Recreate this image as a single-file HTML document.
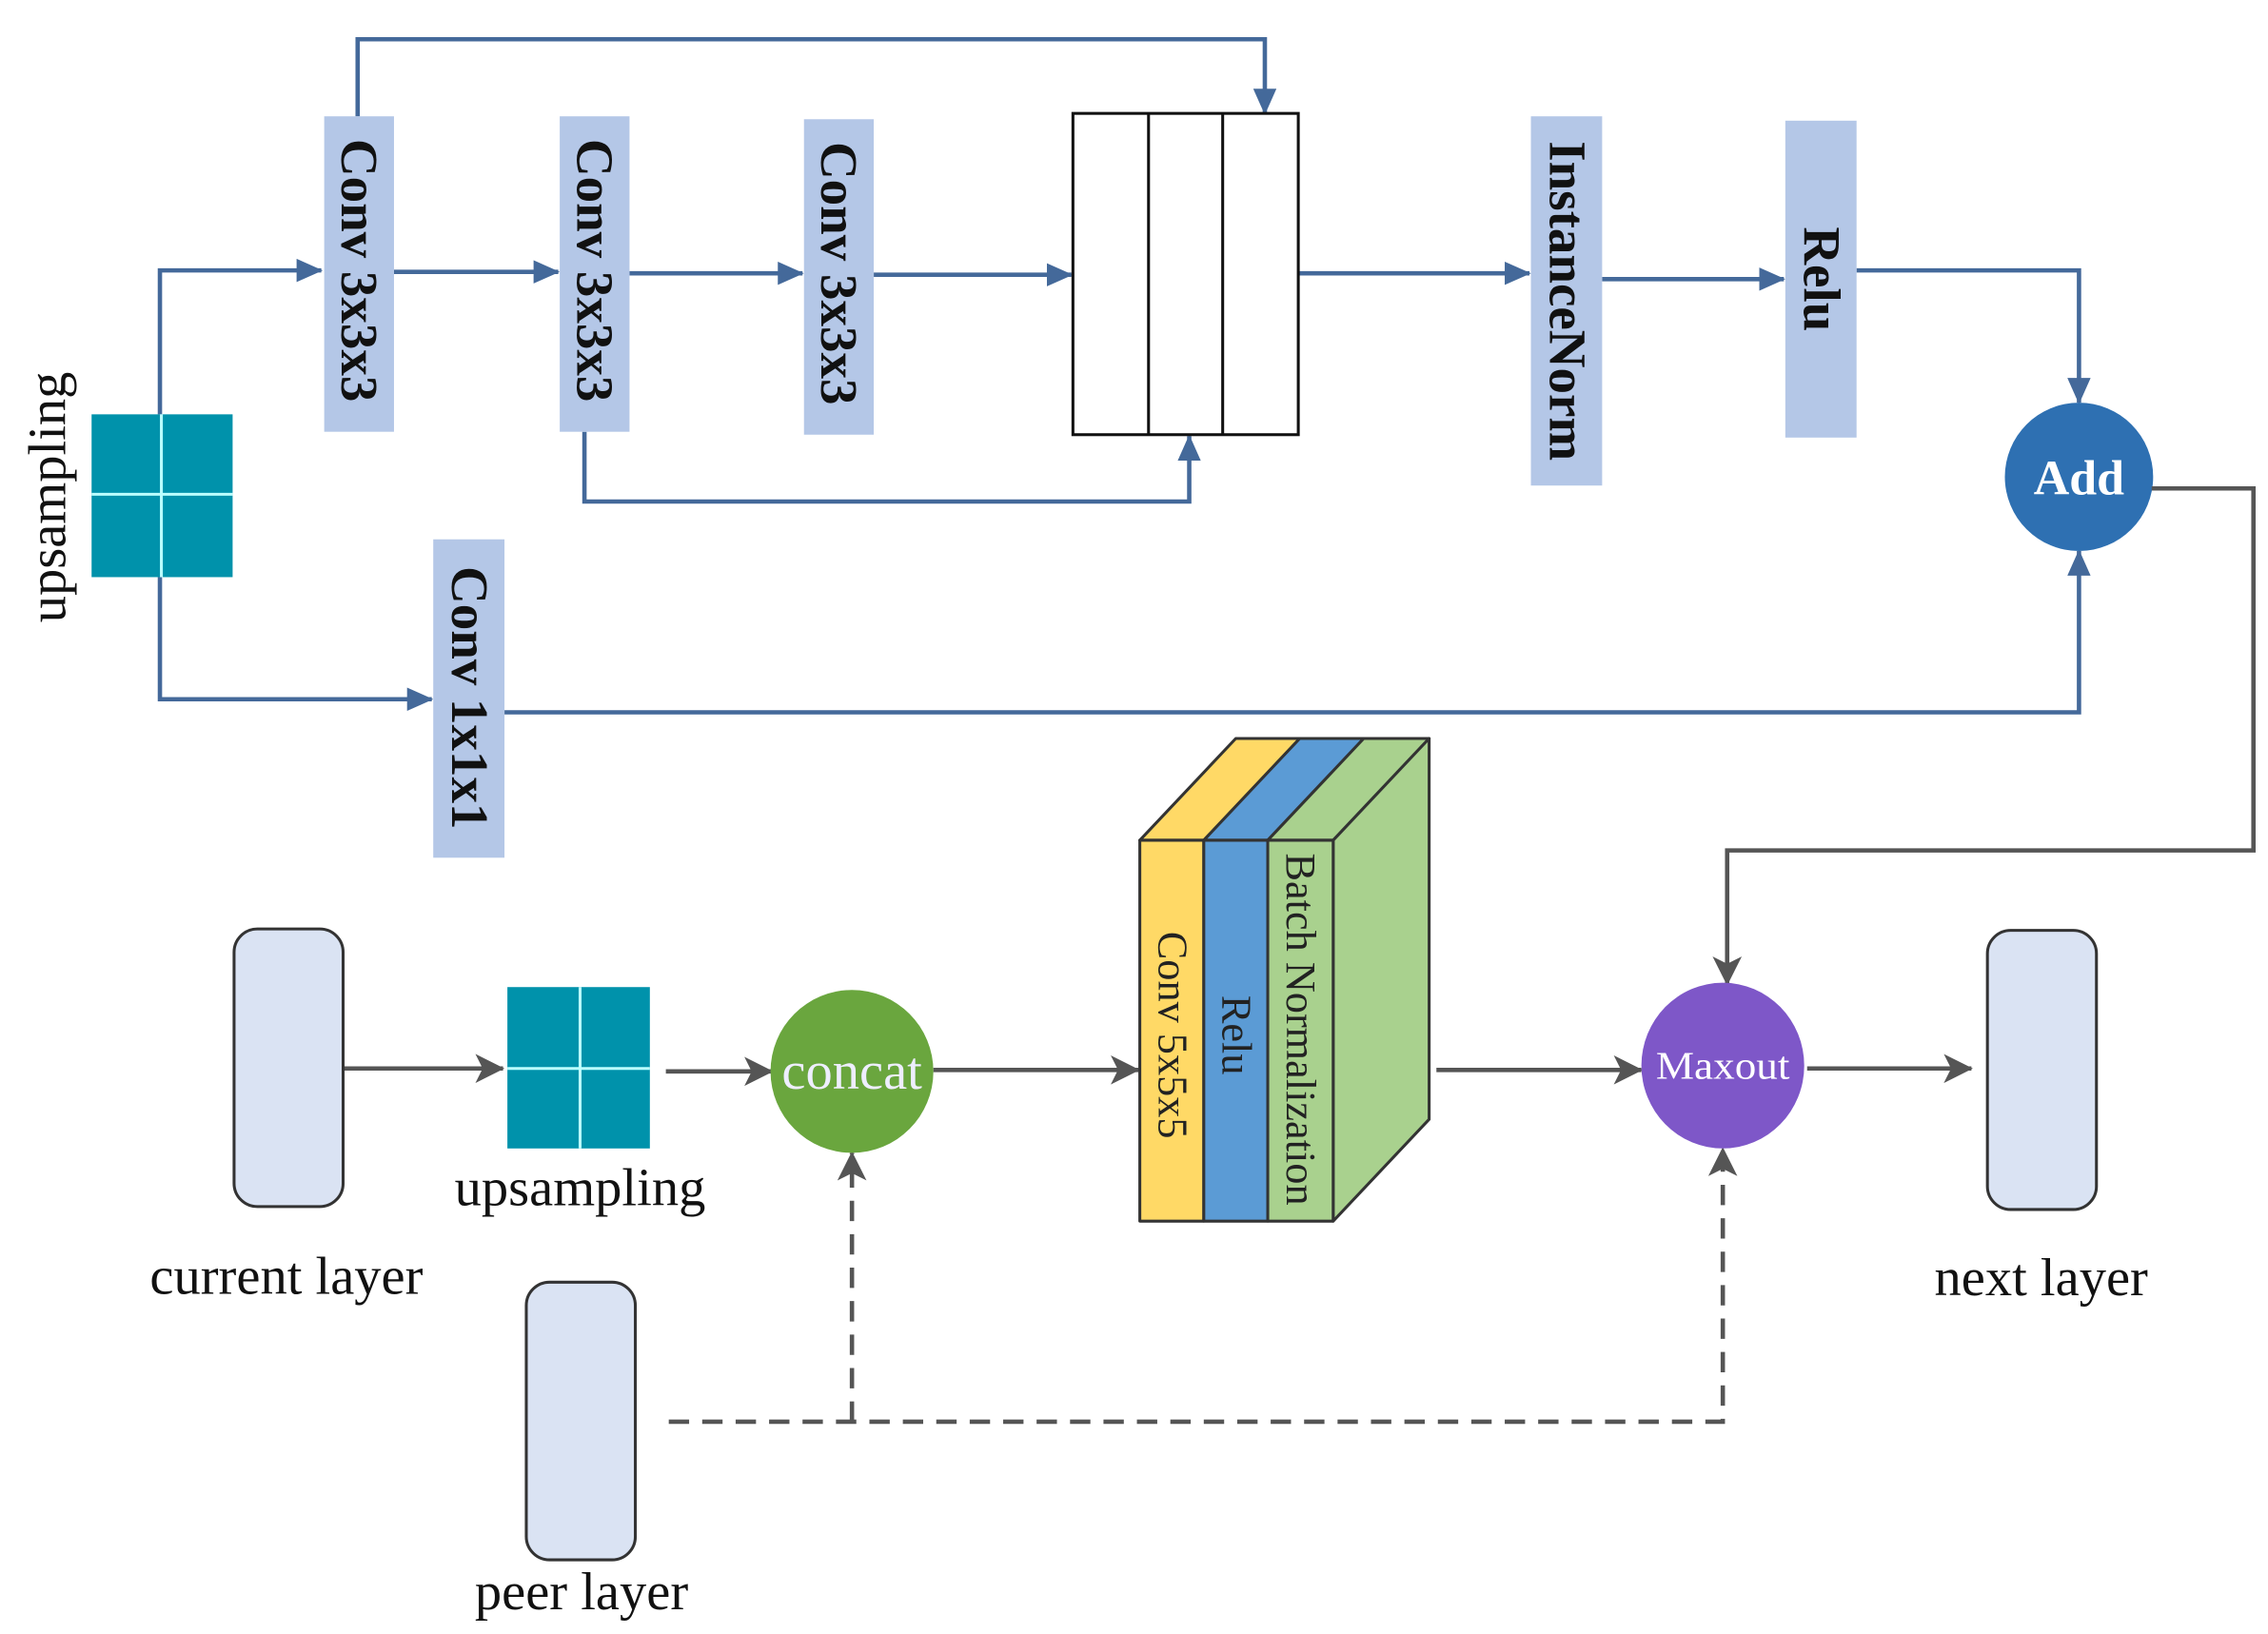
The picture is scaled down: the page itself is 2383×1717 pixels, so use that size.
<!DOCTYPE html>
<html><head><meta charset="utf-8"><style>
html,body{margin:0;padding:0;background:#fff;}
svg{display:block;}
text{font-family:"Liberation Serif",serif;}
</style></head><body>
<svg width="2383" height="1717" viewBox="0 0 1560 1124" xmlns="http://www.w3.org/2000/svg">
<defs>
<marker id="ab" markerWidth="18" markerHeight="16" refX="17" refY="8" orient="auto" markerUnits="userSpaceOnUse" viewBox="0 0 18 16"><path d="M0,0 L18,8 L0,16 z" fill="#44699a"/></marker>
<marker id="ag" markerWidth="20" markerHeight="20" refX="19" refY="10" orient="auto" markerUnits="userSpaceOnUse" viewBox="0 0 20 20"><path d="M0,0 L20,10 L0,20 L5,10 z" fill="#555"/></marker>
</defs>
<g fill="none" stroke="#44699a" stroke-width="3">
<polyline points="246,80 246,27 870,27 870,78" marker-end="url(#ab)"/>
<polyline points="110,285 110,186 221,186" marker-end="url(#ab)"/>
<line x1="271" y1="187" x2="384" y2="187" marker-end="url(#ab)"/>
<line x1="433" y1="188" x2="552" y2="188" marker-end="url(#ab)"/>
<line x1="601" y1="189" x2="737" y2="189" marker-end="url(#ab)"/>
<line x1="893" y1="188" x2="1052" y2="188" marker-end="url(#ab)"/>
<line x1="1102" y1="192" x2="1227" y2="192" marker-end="url(#ab)"/>
<polyline points="1277,186 1430,186 1430,277" marker-end="url(#ab)"/>
<polyline points="402,297 402,345 818,345 818,300" marker-end="url(#ab)"/>
<polyline points="110,397 110,481 297,481" marker-end="url(#ab)"/>
<polyline points="347,490 1430,490 1430,379" marker-end="url(#ab)"/>
</g>
<g fill="#b4c7e7">
<rect x="223" y="80" width="48" height="217"/>
<rect x="385" y="80" width="48" height="217"/>
<rect x="553" y="82" width="48" height="217"/>
<rect x="1053" y="80" width="49" height="254"/>
<rect x="1228" y="83" width="49" height="218"/>
<rect x="298" y="371" width="49" height="219"/>
</g>
<g font-weight="bold" font-size="36" fill="#111" text-anchor="middle">
<text transform="translate(235,186) rotate(90)">Conv 3x3x3</text>
<text transform="translate(397,186) rotate(90)">Conv 3x3x3</text>
<text transform="translate(565,188) rotate(90)">Conv 3x3x3</text>
<text transform="translate(1066,207) rotate(90)">InstanceNorm</text>
<text transform="translate(1241,192) rotate(90)">Relu</text>
<text transform="translate(311,480) rotate(90)">Conv 1x1x1</text>
</g>
<rect x="738" y="78" width="155" height="221" fill="#fff" stroke="#111" stroke-width="2"/>
<line x1="790" y1="78" x2="790" y2="299" stroke="#111" stroke-width="2"/>
<line x1="841" y1="78" x2="841" y2="299" stroke="#111" stroke-width="2"/>
<circle cx="1430" cy="328" r="51" fill="#2e70b2"/>
<text x="1430" y="340" font-size="34" font-weight="bold" fill="#fff" text-anchor="middle">Add</text>
<rect x="63" y="285" width="97" height="112" fill="#0092ab"/>
<line x1="111" y1="285" x2="111" y2="397" stroke="#bff" stroke-width="2"/>
<line x1="63" y1="340" x2="160" y2="340" stroke="#bff" stroke-width="2"/>
<text transform="translate(45,342) rotate(-90)" font-size="37" text-anchor="middle" fill="#111">upsampling</text>
<g fill="none" stroke="#555" stroke-width="3">
<polyline points="1480,336 1550,336 1550,585 1188,585 1188,677" marker-end="url(#ag)"/>
<line x1="236" y1="735" x2="346" y2="735" marker-end="url(#ag)"/>
<line x1="458" y1="737" x2="531" y2="737" marker-end="url(#ag)"/>
<line x1="642" y1="736" x2="783" y2="736" marker-end="url(#ag)"/>
<line x1="988" y1="736" x2="1129" y2="736" marker-end="url(#ag)"/>
<line x1="1243" y1="735" x2="1356" y2="735" marker-end="url(#ag)"/>
<g stroke-dasharray="14,9">
<polyline points="460,978 1185,978 1185,790" marker-end="url(#ag)"/>
<line x1="586" y1="978" x2="586" y2="793" marker-end="url(#ag)"/>
</g>
</g>
<g fill="#dae3f3" stroke="#333" stroke-width="2">
<rect x="161" y="639" width="75" height="191" rx="16"/>
<rect x="1367" y="640" width="75" height="192" rx="16"/>
<rect x="362" y="882" width="75" height="191" rx="16"/>
</g>
<g font-size="37" fill="#111" text-anchor="middle">
<text x="197" y="890">current layer</text>
<text x="399" y="829">upsampling</text>
<text x="1404" y="891">next layer</text>
<text x="400" y="1107">peer layer</text>
</g>
<rect x="349" y="679" width="98" height="111" fill="#0092ab"/>
<line x1="399" y1="679" x2="399" y2="790" stroke="#bff" stroke-width="2"/>
<line x1="349" y1="735" x2="447" y2="735" stroke="#bff" stroke-width="2"/>
<circle cx="586" cy="737" r="56" fill="#6aa63e"/>
<text x="586" y="749" font-size="37" fill="#eef" text-anchor="middle">concat</text>
<g stroke="#333" stroke-width="2" stroke-linejoin="round">
<polygon points="784,578 828,578 894,508 850,508" fill="#ffd966"/>
<polygon points="828,578 872,578 938,508 894,508" fill="#5b9bd5"/>
<polygon points="872,578 917,578 983,508 938,508" fill="#a9d18e"/>
<polygon points="917,578 983,508 983,770 917,840" fill="#a9d18e"/>
<rect x="784" y="578" width="44" height="262" fill="#ffd966"/>
<rect x="828" y="578" width="44" height="262" fill="#5b9bd5"/>
<rect x="872" y="578" width="45" height="262" fill="#a9d18e"/>
</g>
<g font-size="29" fill="#222" text-anchor="middle">
<text transform="translate(797,712) rotate(90)">Conv 5x5x5</text>
<text transform="translate(841,712) rotate(90)">Relu</text>
<text transform="translate(885,708) rotate(90)">Batch Normalization</text>
</g>
<ellipse cx="1185" cy="733" rx="56" ry="57" fill="#7e57c8"/>
<text x="1185" y="742" font-size="27" fill="#fff" text-anchor="middle" textLength="92" lengthAdjust="spacingAndGlyphs">Maxout</text>
</svg>
</body></html>
